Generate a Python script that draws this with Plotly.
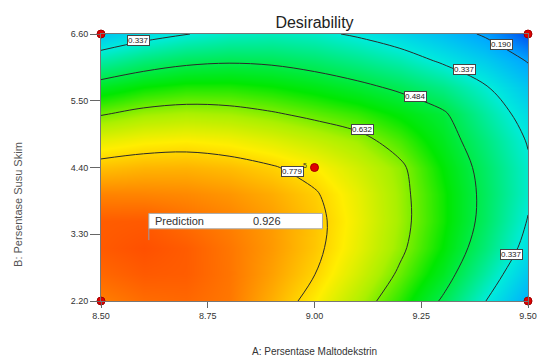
import plotly.graph_objects as go

# Factor A (x) and factor B (y) grid positions
x_vals = [8.5, 8.6, 8.7, 8.8, 8.9, 9.0, 9.1, 9.2, 9.3, 9.4, 9.5]
y_vals = [2.2, 2.64, 3.08, 3.52, 3.96, 4.4, 4.84, 5.28, 5.72, 6.16, 6.6]

# Desirability (rows follow y_vals)
desirability = [
    [0.875, 0.895, 0.900, 0.883, 0.821, 0.751, 0.672, 0.582, 0.474, 0.339, 0.204],
    [0.900, 0.915, 0.912, 0.886, 0.837, 0.779, 0.705, 0.620, 0.522, 0.394, 0.257],
    [0.915, 0.926, 0.913, 0.884, 0.845, 0.794, 0.726, 0.646, 0.553, 0.437, 0.306],
    [0.912, 0.915, 0.894, 0.873, 0.842, 0.797, 0.733, 0.655, 0.566, 0.459, 0.333],
    [0.869, 0.868, 0.863, 0.849, 0.824, 0.785, 0.727, 0.653, 0.565, 0.463, 0.351],
    [0.803, 0.815, 0.817, 0.806, 0.784, 0.752, 0.702, 0.645, 0.552, 0.455, 0.349],
    [0.725, 0.743, 0.750, 0.740, 0.718, 0.689, 0.656, 0.601, 0.525, 0.432, 0.331],
    [0.626, 0.654, 0.665, 0.658, 0.639, 0.614, 0.588, 0.546, 0.497, 0.397, 0.299],
    [0.522, 0.555, 0.572, 0.572, 0.558, 0.535, 0.506, 0.469, 0.419, 0.345, 0.251],
    [0.391, 0.437, 0.465, 0.475, 0.469, 0.449, 0.418, 0.380, 0.325, 0.268, 0.184],
    [0.252, 0.300, 0.335, 0.359, 0.367, 0.355, 0.326, 0.287, 0.238, 0.178, 0.070],
]

x_ticks = [8.5, 8.75, 9.0, 9.25, 9.5]
x_ticktext = ["8.50", "8.75", "9.00", "9.25", "9.50"]
y_ticks = [2.2, 3.3, 4.4, 5.5, 6.6]
y_ticktext = ["2.20", "3.30", "4.40", "5.50", "6.60"]

# design points
design_x = [8.5, 9.5, 8.5, 9.5, 9.0]
design_y = [6.6, 6.6, 2.2, 2.2, 4.4]

# contour level labels (text, x, y)
label_text = ["0.337", "0.190", "0.337", "0.484", "0.632", "0.779", "0.337"]
label_x = [8.588, 9.437, 9.351, 9.2375, 9.113, 8.949, 9.462]
label_y = [6.499, 6.427, 6.016, 5.569, 5.025, 4.326, 2.963]

pred_x, pred_y, pred_value = 8.612, 3.204, "0.926"

cs = [[0.0, 'rgb(0,60,235)'], [0.17, 'rgb(0,170,255)'], [0.33, 'rgb(0,235,220)'],
      [0.5, 'rgb(0,235,70)'], [0.58, 'rgb(0,232,0)'], [0.7, 'rgb(170,240,0)'],
      [0.8, 'rgb(255,238,0)'], [0.9, 'rgb(255,160,0)'], [1.0, 'rgb(255,80,0)']]

fig = go.Figure()
fig.add_trace(go.Heatmap(x=x_vals, y=y_vals, z=desirability, zmin=0.043, zmax=0.926,
                         colorscale=cs, zsmooth='best', showscale=False, hoverinfo='skip'))
fig.add_trace(go.Contour(x=x_vals, y=y_vals, z=desirability,
                         contours=dict(start=0.190, end=0.779, size=0.147, coloring='none'),
                         line=dict(color='#2a2a2a', width=1, smoothing=1.0), showscale=False))
fig.add_trace(go.Scatter(x=design_x, y=design_y, mode='markers', cliponaxis=False,
                         marker=dict(color='#e00000', size=8, line=dict(color='#a00000', width=1)),
                         showlegend=False))

annotations = []
for t, lx, ly in zip(label_text, label_x, label_y):
    annotations.append(dict(x=lx, y=ly, xref='x', yref='y', text=t, showarrow=False,
                            font=dict(family='Arial', size=8, color='#222'),
                            bgcolor='white', bordercolor='#444', borderwidth=1, borderpad=0))
annotations.append(dict(x=8.977, y=4.434, xref='x', yref='y', text='5', showarrow=False,
                        font=dict(family='Arial', size=7, color='#333')))
annotations.append(dict(x=8.6225, y=3.517, xref='x', yref='y', text='Prediction', showarrow=False,
                        xanchor='left', font=dict(family='Arial', size=11, color='#333')))
annotations.append(dict(x=8.851, y=3.517, xref='x', yref='y', text=pred_value, showarrow=False,
                        xanchor='left', font=dict(family='Arial', size=11, color='#333')))
annotations.append(dict(x=0.5, y=-0.218, xref='paper', yref='paper', text='A: Persentase Maltodekstrin',
                        showarrow=False, font=dict(family='Arial', size=10, color='#333')))
annotations.append(dict(x=-0.213, y=0.36, xref='paper', yref='paper', text='B: Persentase Susu Skim',
                        textangle=-90, showarrow=False, font=dict(family='Arial', size=11, color='#555')))

shapes = [
    dict(type='rect', xref='x', yref='y', x0=pred_x, x1=9.0187, y0=3.390, y1=3.643,
         fillcolor='white', line=dict(color='#aaaaaa', width=1)),
    dict(type='line', xref='x', yref='y', x0=pred_x, x1=pred_x, y0=pred_y, y1=3.390,
         line=dict(color='#9999aa', width=1)),
]

fig.update_layout(width=537, height=358, margin=dict(l=101, r=9, t=34, b=57, autoexpand=False),
                  paper_bgcolor='white', plot_bgcolor='white', showlegend=False,
                  title=dict(text='Desirability', x=0.5, xref='paper', y=0.937, yref='container',
                             yanchor='middle', font=dict(family='Arial', size=16, color='#222')),
                  annotations=annotations, shapes=shapes)
fig.update_xaxes(range=[8.5, 9.5], tickvals=x_ticks, ticktext=x_ticktext, ticks='outside', ticklen=6,
                 tickcolor='#666', tickfont=dict(family='Arial', size=9, color='#333'), automargin=False,
                 showline=True, linecolor='#777', mirror=True, showgrid=False, zeroline=False)
fig.update_yaxes(range=[2.2, 6.6], tickvals=y_ticks, ticktext=y_ticktext, ticks='outside', ticklen=10,
                 tickcolor='#666', tickfont=dict(family='Arial', size=9, color='#333'), automargin=False,
                 showline=True, linecolor='#777', mirror=True, showgrid=False, zeroline=False)
fig.write_html("out.html", config={'displayModeBar': False},
               post_script="document.body.style.margin='0px';document.body.style.overflow='hidden';")
